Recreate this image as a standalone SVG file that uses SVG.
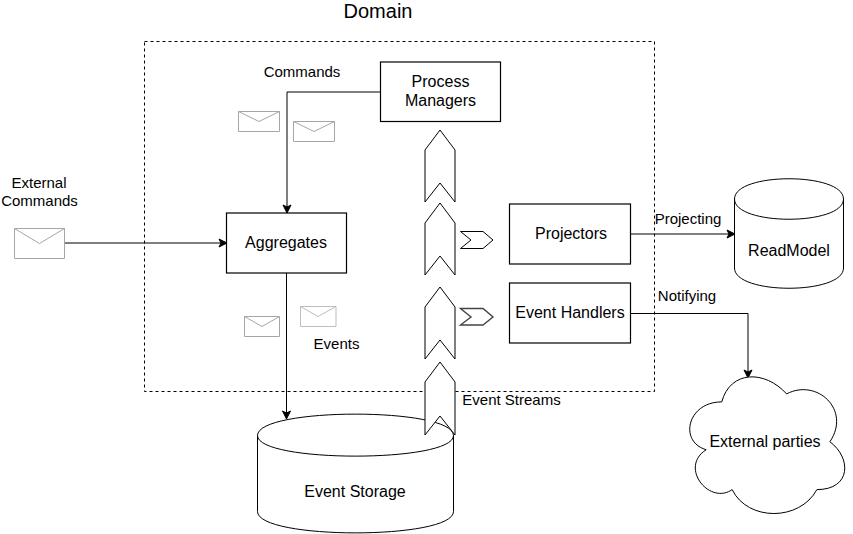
<svg xmlns="http://www.w3.org/2000/svg" width="853" height="534" viewBox="0 0 853 534">
<defs>
<marker id="arrow" markerUnits="userSpaceOnUse" markerWidth="10" markerHeight="10" refX="7" refY="4" orient="auto" overflow="visible"><path d="M0 0 L8 4 L0 8 L2 4 Z" fill="#000" stroke="#000"/></marker>
</defs>
<style>
text{font-family:"Liberation Sans",Arial,sans-serif;fill:#000;text-anchor:middle}
.s{font-size:16px}.m{font-size:15px}
.box{fill:#fff;stroke:#000;stroke-width:1.2}
.shape{fill:#fff;stroke:#000;stroke-width:1}
.env{fill:#fff;stroke:#a6a6a6;stroke-width:1}
.conn{fill:none;stroke:#000;stroke-width:1;marker-end:url(#arrow)}
</style>
<rect id="domain-boundary" x="144.500" y="41.500" width="510" height="350" fill="none" stroke="#000" stroke-dasharray="3 3"/>
<text x="378" y="18" font-size="20">Domain</text>
<g id="event-storage"><path class="shape" d="M257.500 435.500C257.500 407 453.500 407 453.500 435.500V511.500C453.500 540 257.500 540 257.500 511.500ZM257.500 435.500C257.500 463 453.500 463 453.500 435.500"/><text class="s" x="355" y="497">Event Storage</text></g>
<g id="connectors">
<path class="conn" d="M380 92H287V212"/>
<path class="conn" d="M65 243H226"/>
<path class="conn" d="M286.500 273V418"/>
<path class="conn" d="M631 234H734"/>
<path class="conn" d="M631 313.500H748V377"/>
</g>
<g id="process-managers"><rect class="box" x="380.500" y="62" width="120" height="59.500"/><text class="s" x="440.500" y="87">Process</text><text class="s" x="440.500" y="106">Managers</text></g>
<g id="aggregates"><rect class="box" x="226.500" y="213" width="120" height="60"/><text class="s" x="286" y="248">Aggregates</text></g>
<g id="projectors"><rect class="box" x="509.500" y="204" width="121" height="60"/><text class="s" x="571" y="239">Projectors</text></g>
<g id="event-handlers"><rect class="box" x="509.500" y="283" width="121" height="60"/><text class="s" x="570" y="318">Event Handlers</text></g>
<g id="read-model"><path class="shape" d="M734.500 199C734.500 172 843.500 172 843.500 199V268C843.500 295 734.500 295 734.500 268ZM734.500 199C734.500 226 843.500 226 843.500 199"/><text class="s" x="789" y="256">ReadModel</text></g>
<g id="external-parties"><path class="shape" d="M721.750 401.880C687.150 401.880 678.500 441.750 706.180 449.730C678.500 467.270 709.640 505.550 732.130 489.600C747.700 521.500 799.600 521.500 816.900 489.600C851.500 489.600 851.500 457.700 829.880 441.750C851.500 409.850 816.900 377.950 786.600 393.900C765 369.980 730.400 369.980 721.750 401.880Z"/><text class="s" x="765" y="447">External parties</text></g>
<g id="stream-1"><path class="shape" d="M440 130L455 150V202L440 183L425 202V150Z"/></g>
<g id="stream-2"><path class="shape" d="M440 203L455 223V275L440 256L425 275V223Z"/></g>
<g id="stream-3"><path class="shape" d="M440 287L455 307V359L440 340L425 359V307Z"/></g>
<g id="stream-4"><path class="shape" d="M440 362L455 382V435L440 416L425 435V382Z"/></g>
<g id="stream-right-1"><path class="shape" d="M460.500 231.500H483L493 240L483 248.500H460.500L471 240Z"/></g>
<g id="stream-right-2"><path class="shape" style="stroke:#444;stroke-width:1.4" d="M460.500 308.500H483L493 317L483 325H460.500L471 317Z"/></g>
<g id="envelope-external"><path class="env" d="M14.500 228.500H64.500V258.500H14.500ZM14.500 228.500L39.500 243.500L64.500 228.500"/></g>
<g id="envelope-cmd-1"><path class="env" d="M238.500 111.500H279.500V131.500H238.500ZM238.500 111.500L259 121.500L279.500 111.500"/></g>
<g id="envelope-cmd-2"><path class="env" d="M293.500 121.500H334.500V141.500H293.500ZM293.500 121.500L314 131.500L334.500 121.500"/></g>
<g id="envelope-evt-1"><path class="env" d="M244.500 316.500H279.500V336.500H244.500ZM244.500 316.500L262 326.500L279.500 316.500"/></g>
<g id="envelope-evt-2"><path class="env" style="stroke:#bdbdbd" d="M300.500 306.500H336V326.500H300.500ZM300.500 306.500L318 316.500L336 306.500"/></g>
<text class="m" x="302" y="77">Commands</text>
<text class="m" x="39" y="188">External</text>
<text class="m" x="39.500" y="206">Commands</text>
<text class="m" x="336.500" y="349">Events</text>
<text class="m" x="511.500" y="405">Event Streams</text>
<text class="m" x="688" y="224">Projecting</text>
<text class="m" x="687" y="301">Notifying</text>
</svg>
